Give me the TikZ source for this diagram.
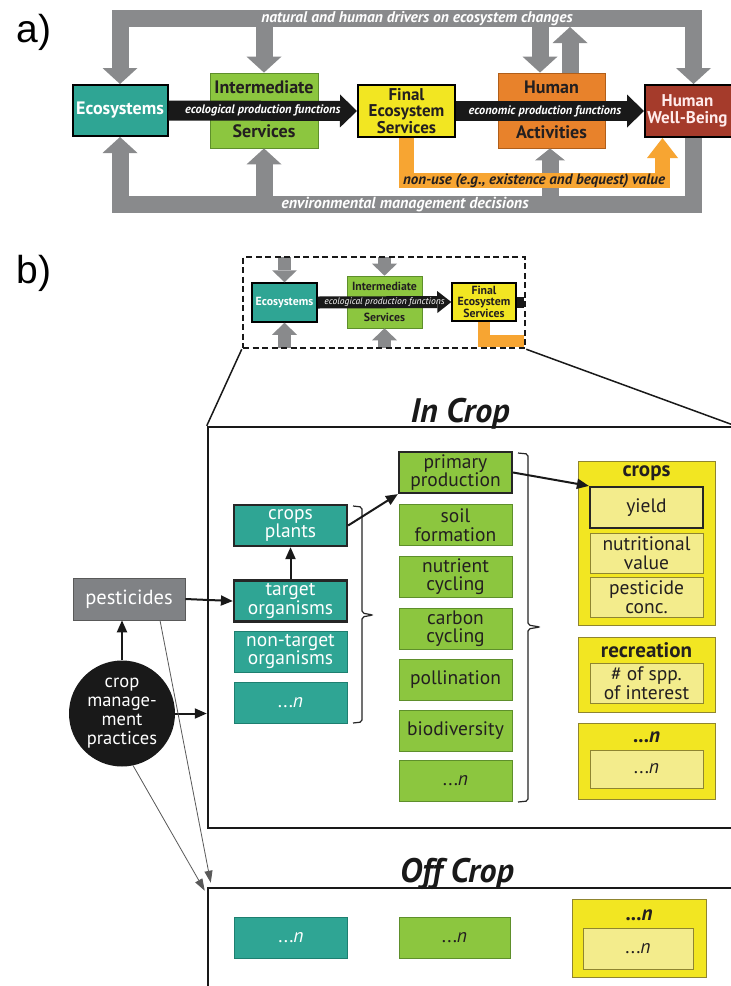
\documentclass[tikz,border=0pt]{standalone}
\usepackage{fontspec}
\setmainfont{PT Sans}
\newfontfamily\labfont{Liberation Sans}
\usetikzlibrary{arrows.meta,calc}
\newcommand{\myfs}[2]{\fontsize{#1}{#2}\selectfont}
\definecolor{tealc}{HTML}{2FA594}
\definecolor{tealdark}{HTML}{1E7F70}
\definecolor{greenc}{HTML}{8CC63F}
\definecolor{greendark}{HTML}{5E8F2B}
\definecolor{yelc}{HTML}{F2E622}
\definecolor{yelin}{HTML}{F3EC8C}
\definecolor{yeldark}{HTML}{8F8530}
\definecolor{orboxc}{HTML}{E8822B}
\definecolor{ordark}{HTML}{B05E1A}
\definecolor{brownc}{HTML}{A53B2B}
\definecolor{bandgray}{HTML}{898A8C}
\definecolor{bandor}{HTML}{F7A532}
\definecolor{pestgray}{HTML}{808285}
\definecolor{darktext}{HTML}{231F20}
\tikzset{
  gb/.style={draw=bandgray, line width=17pt},
  gtip/.style={-{Triangle[width=35pt,length=16pt,line width=0pt]}},
  gtipsm/.style={-{Triangle[width=30pt,length=12pt,line width=0pt]}},
  ob/.style={draw=bandor, line width=15pt},
  otip/.style={-{Triangle[width=31pt,length=20pt,line width=0pt]}},
  bb/.style={draw=black!90, line width=20pt, -{Triangle[width=33pt,length=17pt,line width=0pt]}},
  abox/.style={draw, inner sep=0pt, align=center, text=darktext, font=\bfseries\myfs{18}{15}},
  bandlab/.style={font=\bfseries\itshape\myfs{15.5}{16}, text=white, inner sep=0pt},
  blacklab/.style={font=\bfseries\itshape\myfs{12.3}{13}, text=white, inner sep=0pt},
  % small diagram
  sgb/.style={draw=bandgray, line width=13pt, -{Triangle[width=25pt,length=12pt,line width=0pt]}},
  sbox/.style={draw, inner sep=0pt, align=center, text=darktext, font=\bfseries\myfs{11.8}{10.5}},
  % part b
  bx/.style={inner sep=0pt, align=center, minimum width=113pt, minimum height=41pt, font=\myfs{19.5}{18.5}},
  tbox/.style={bx, fill=tealc, draw=tealdark, line width=0.8pt, text=white},
  grbox/.style={bx, fill=greenc, draw=greendark, line width=0.8pt, text=darktext},
  ybox/.style={bx, fill=yelin, draw=yeldark, line width=0.8pt, text=darktext},
  youter/.style={fill=yelc, draw=yeldark, line width=0.8pt, minimum width=137pt, inner sep=0pt},
  ylab/.style={font=\bfseries\myfs{21}{17}, text=darktext, inner sep=0pt},
  thickbd/.style={draw=black!85, line width=2.2pt},
  arr/.style={draw=black!90, line width=2pt, -{Triangle[width=10pt,length=12pt]}},
  thinarr/.style={draw=black!65, line width=0.8pt, -{Triangle[width=8pt,length=12pt]}},
  bigbox/.style={draw=black!90, line width=2.5pt, inner sep=0pt},
  ttl/.style={font=\bfseries\itshape\myfs{34}{34}, text=black!90, inner sep=0pt, anchor=base},
  brk/.style={draw=black!85, line width=1.2pt, rounded corners=2pt}
}
\begin{document}
\begin{tikzpicture}[x=1pt,y=-1pt]
\useasboundingbox (0,0) rectangle (731,986);
\fill[white] (0,0) rectangle (731,986);

% ---------------- a) ----------------
\node[font=\labfont\myfs{39}{39}, inner sep=0pt] (la) at (34,32) {a)};

\node[abox, fill=tealc, draw=black, line width=2pt, text=white, minimum width=95pt, minimum height=51pt] (eco) at (120,110.5) {Ecosystems};
\node[abox, fill=greenc, draw=greendark, line width=0.8pt, minimum width=108pt, minimum height=75pt] (inter) at (264,110.5) {};
\node[abox, fill=yelc, draw=black, line width=2pt, minimum width=97pt, minimum height=52pt, font=\bfseries\myfs{17}{16.5}] (final) at (406.5,111) {Final\\Ecosystem\\Services};
\node[abox, fill=orboxc, draw=ordark, line width=0.8pt, minimum width=107pt, minimum height=75pt] (ha) at (551.5,110.5) {};
\node[abox, fill=brownc, draw=black, line width=2pt, minimum width=97pt, minimum height=52pt] (hwb) at (693.5,111) {};
\node[abox, draw=none, text=white!92!red, font=\bfseries\myfs{17}{16.5}] (hwbt) at ([xshift=-6pt]hwb.center) {Human\\Well-Being};

% gray bands (top)
\coordinate (TL) at (eco.north |- 0,18.5);
\coordinate (TR) at (hwb.north |- 0,18.5);
\draw[gb, gtip] (TR) -- (TL) -- (eco.north);
\draw[gb, gtip] (TL) -- (TR) -- (hwb.north);
\draw[gb, gtip] (inter.north |- TL) -- (inter.north);
\coordinate (HAd) at ([xshift=-11.5pt]ha.north);
\coordinate (HAu) at ([xshift=18.5pt]ha.north);
\draw[gb, gtip] (HAd |- TL) -- (HAd);
\draw[gb, gtip] (HAu) -- ([yshift=-8.5pt]HAu |- TL);
% gray bands (bottom)
\coordinate (BL) at (eco.south |- 0,204.5);
\coordinate (BR) at (hwb.south |- 0,204.5);
\draw[gb, gtip] (hwb.south) -- (BR) -- (BL) -- (eco.south);
\draw[gb, gtip] (inter.south |- BL) -- (inter.south);
\coordinate (HAb) at ([xshift=-1.5pt]ha.south);
\draw[gb, gtipsm] (HAb |- BL) -- (HAb);
% orange band
\coordinate (ORt) at ([xshift=-31pt]hwb.south);
\draw[ob, otip] (final.south) |- (ORt |- 0,180.5) -- (ORt);

% black bands
\draw[bb] (eco.east) -- (final.west);
\draw[bb] (final.east) -- (hwb.west);

% box texts
\node[abox, draw=none] at ([yshift=-15pt]inter.north) {Intermediate};
\node[abox, draw=none] at ([yshift=17pt]inter.south) {Services};
\node[abox, draw=none] at ([yshift=-15pt]ha.north) {Human};
\node[abox, draw=none] at ([yshift=16pt]ha.south) {Activities};

% labels
\node[blacklab] at ($(eco.east)!0.5!(final.west)$) {ecological production functions};
\node[blacklab] at (545,111) {economic production functions};
\node[bandlab] at (417,18.5) {natural and human drivers on ecosystem changes};
\node[bandlab, font=\bfseries\itshape\myfs{16}{16}] at (405,204.5) {environmental management decisions};
\node[bandlab, text=darktext, font=\bfseries\itshape\myfs{15}{15}] at (534,180.5) {non-use (e.g., existence and bequest) value};

% ---------------- b) ----------------
\node[font=\labfont\myfs{39}{39}, inner sep=0pt] (lb) at (34,273) {b)};

% small diagram
\node[sbox, fill=tealc, draw=black, line width=1.5pt, text=white, minimum width=65pt, minimum height=39pt] (seco) at (284.5,302.5) {Ecosystems};
\node[sbox, fill=greenc, draw=greendark, line width=0.6pt, minimum width=75pt, minimum height=52pt] (sint) at (384.5,302) {};
\node[sbox, fill=yelc, draw=black, line width=1.5pt, minimum width=64pt, minimum height=38pt] (sfin) at (484,302) {Final\\Ecosystem\\Services};
\coordinate (ZT) at (0,257);
\coordinate (ZB) at (0,348);
\draw[sgb] (seco.north |- ZT) -- (seco.north);
\draw[sgb] (seco.south |- ZB) -- (seco.south);
\draw[sgb] (sint.north |- ZT) -- (sint.north);
\draw[sgb] (sint.south |- ZB) -- (sint.south);
\draw[draw=bandor, line width=12pt] (sfin.south) |- (524,341);
\draw[draw=black!90, line width=12pt, -{Triangle[width=22pt,length=14pt,line width=0pt]}] (seco.east) -- (sfin.west);
\draw[draw=black!90, line width=11pt] (sfin.east) -- ++(7,0);
\node[sbox, draw=none] at ([yshift=-11pt]sint.north) {Intermediate};
\node[sbox, draw=none] at ([yshift=11pt]sint.south) {Services};
\node[font=\itshape\myfs{9.5}{9.5}, text=white, inner sep=0pt] at ($(seco.east)!0.5!(sfin.west)$) {ecological production functions};
\node[draw=black!90, dash pattern=on 6pt off 3.5pt, line width=2.5pt, minimum width=282pt, minimum height=91pt, inner sep=0pt] (zoombox) at (384,302.5) {};

% In Crop / Off Crop boxes
\node[bigbox, minimum width=526pt, minimum height=401pt] (incrop) at (471,627.5) {};
\node[bigbox, minimum width=526pt, minimum height=112pt] (offcrop) at (471,944) {};
\node[ttl] (tin) at (460,422) {In Crop};
\node[ttl] (toff) at (457,882) {Off Crop};
\draw[draw=black!90, line width=1.5pt] (zoombox.south west) -- (incrop.north west);
\draw[draw=black!90, line width=1.5pt] (zoombox.south east) -- (incrop.north east);

% teal column
\node[tbox, thickbd] (cp) at (290.5,525.5) {crops\\plants};
\node[tbox, thickbd] (to) at (290.5,601) {target\\organisms};
\node[tbox] (nto) at (290.5,651.5) {non-target\\organisms};
\node[tbox] (tn) at (290.5,702.5) {...\textit{n}};
% green column
\node[grbox, thickbd] (pp) at (455.5,472.5) {primary\\production};
\node[grbox] (sf) at (455.5,525) {soil\\formation};
\node[grbox] (nc) at (455.5,576.5) {nutrient\\cycling};
\node[grbox] (cc) at (455.5,628.5) {carbon\\cycling};
\node[grbox] (po) at (455.5,679.5) {pollination};
\node[grbox] (bd) at (455.5,731) {biodiversity};
\node[grbox] (gn) at (455.5,781) {...\textit{n}};
% yellow column
\node[youter, minimum height=164pt] (crops) at (646.5,543) {};
\node[ylab] at (646.5,473) {crops};
\node[ybox, thickbd] (yield) at (646.5,507.5) {yield};
\node[ybox, minimum height=40pt] (nv) at (646.5,553) {nutritional\\value};
\node[ybox, minimum height=40pt] (pc) at (646.5,597) {pesticide\\conc.};
\node[youter, minimum height=75pt] (rec) at (646.5,674.5) {};
\node[ylab] at (646.5,650) {recreation};
\node[ybox, minimum height=40pt] (spp) at (646.5,683) {\# of spp.\\of interest};
\node[youter, minimum height=76pt] (yn) at (646.5,761) {};
\node[ylab] at (646.5,737) {...\textit{n}};
\node[ybox, minimum height=38pt] (yni) at (646.5,769) {...\textit{n}};

% brackets
\draw[brk] (353,506) -- (362,507) -- (362,613) -- (373,615) -- (362,617) -- (362,722) -- (353,723);
\draw[brk] (518,453) -- (528,454) -- (528,625) -- (540,627) -- (528,629) -- (528,801) -- (518,802);

% left side
\node[fill=pestgray, draw=gray!70!black, line width=0.6pt, minimum width=112pt, minimum height=42pt, inner sep=0pt, text=white, font=\myfs{20.5}{17}] (pest) at (129,599) {pesticides};
\node[circle, fill=black!90, minimum size=106pt, inner sep=0pt, text=white, align=center, font=\myfs{18.5}{19}] (cmp) at (122,713.5) {crop\\manage-\\ment\\practices};

% connectors
\draw[arr] (to.north) -- (cp.south);
\draw[arr] (cp.east) -- (pp.south west);
\draw[arr] (pp.east) -- (yield.north west);
\draw[arr] (pest.east) -- (to.west);
\draw[arr] (cmp.north) -- (cmp.north |- pest.south);
\draw[arr] (cmp.east) -- (cmp.east -| incrop.west);
\draw[thinarr] ([xshift=31pt]pest.south) -- ([xshift=4pt,yshift=4pt]offcrop.north west);
\draw[thinarr] (cmp.-78) -- ([xshift=-2pt,yshift=-4pt]offcrop.north west);

% off crop content
\node[tbox] (otn) at (291,937.5) {...\textit{n}};
\node[grbox, minimum width=111pt] (ogn) at (454.5,937.5) {...\textit{n}};
\node[youter, minimum width=134pt, minimum height=78pt] (oyn) at (639,938) {};
\node[ylab] at (639,915) {...\textit{n}};
\node[ybox, minimum width=110pt] (oyni) at (638,948.5) {...\textit{n}};
\end{tikzpicture}
\end{document}
